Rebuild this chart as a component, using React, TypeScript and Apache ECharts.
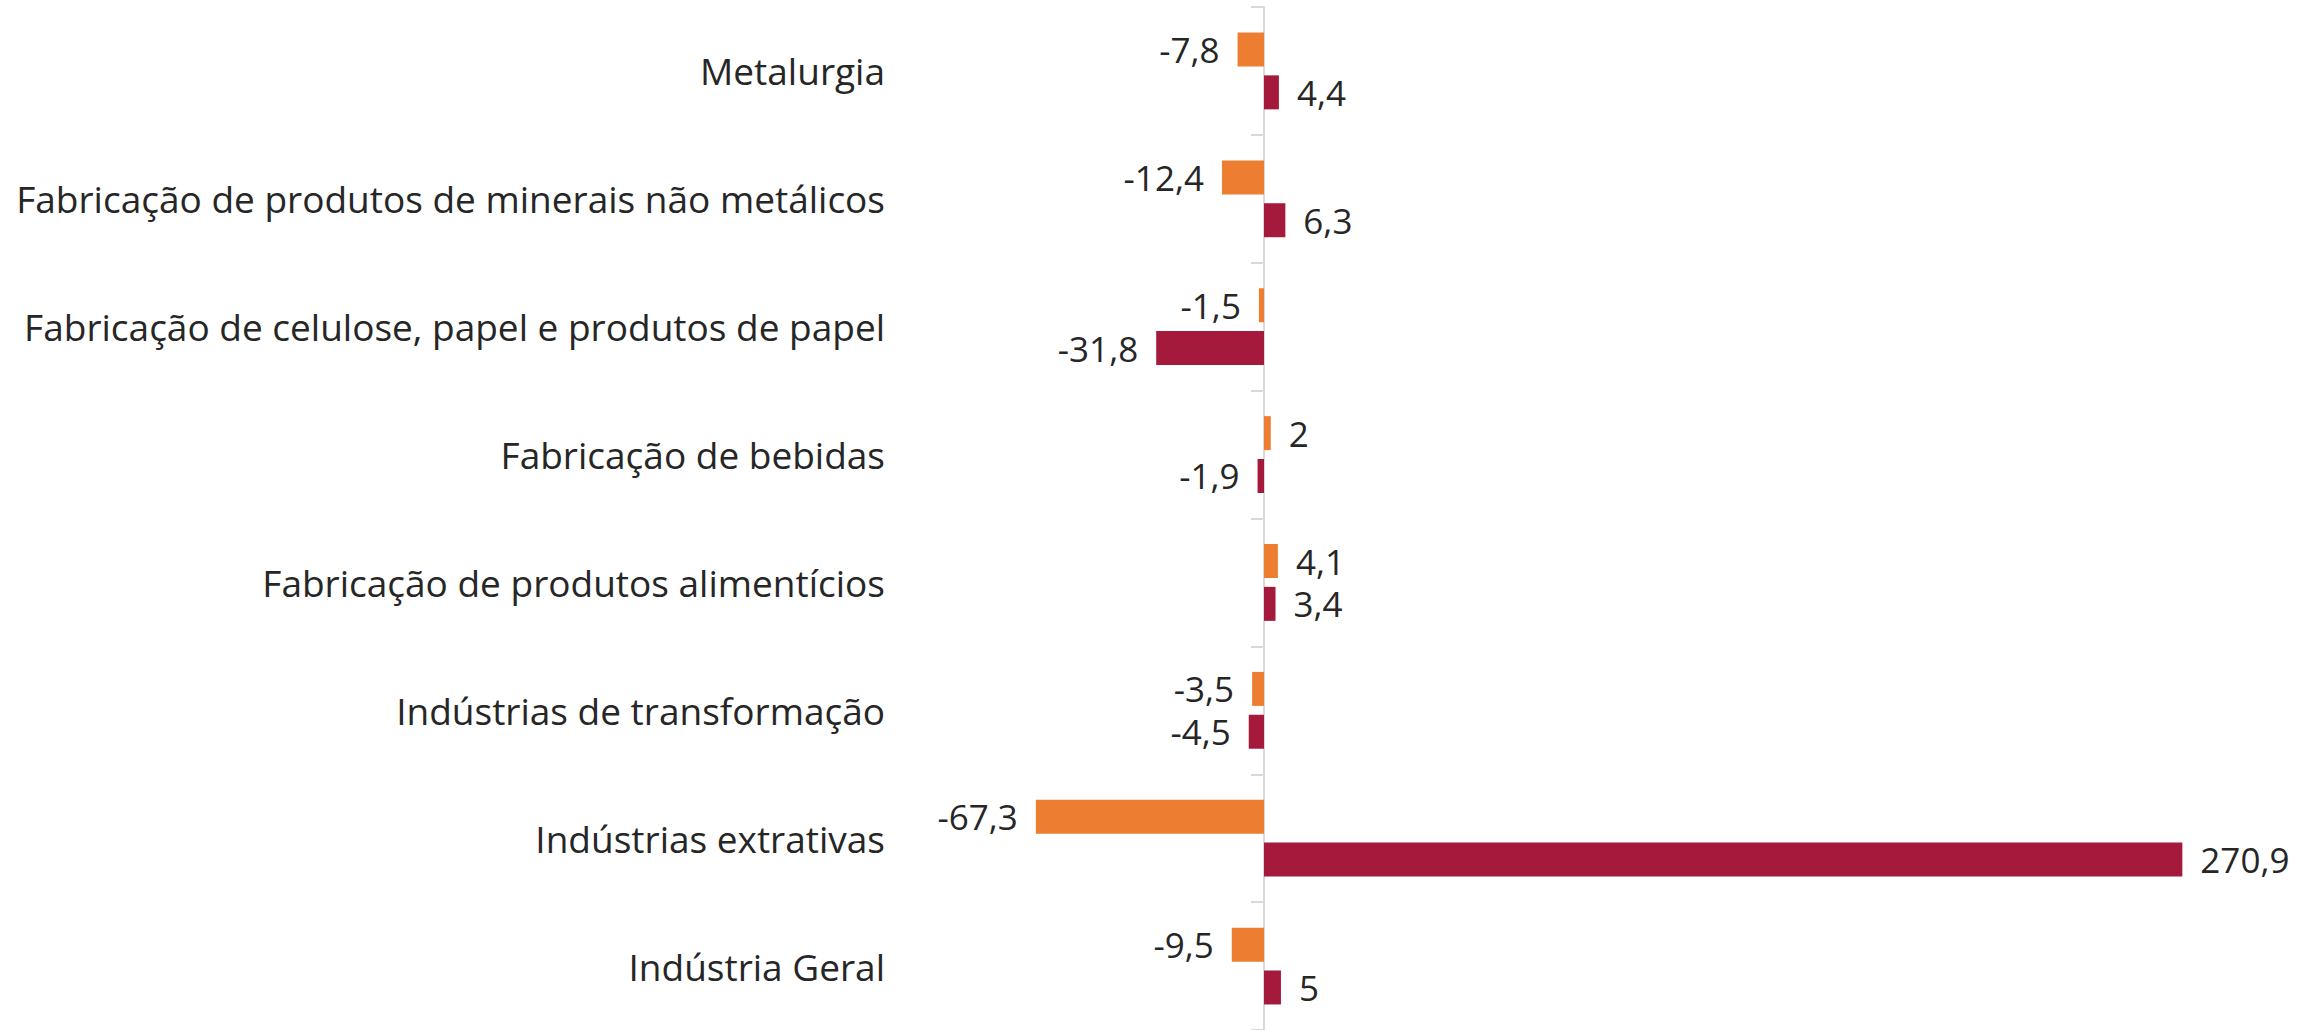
import React, { useEffect, useRef } from "react";
import * as echarts from "echarts";

const categories = [
  "Metalurgia",
  "Fabricação de produtos de minerais não metálicos",
  "Fabricação de celulose, papel e produtos de papel",
  "Fabricação de bebidas",
  "Fabricação de produtos alimentícios",
  "Indústrias de transformação",
  "Indústrias extrativas",
  "Indústria Geral",
];
const orangeValues = [-7.8, -12.4, -1.5, 2, 4.1, -3.5, -67.3, -9.5];
const redValues = [4.4, 6.3, -31.8, -1.9, 3.4, -4.5, 270.9, 5];

const FONT = "Open Sans";
const TEXT = "#262626";

const fmt = (v: number) => String(v).replace(".", ",");

const toItems = (vals: number[]) =>
  vals.map((v) => ({
    value: v,
    label: { position: v < 0 ? "left" : "right" },
  }));

export default function App() {
  const ref = useRef<HTMLDivElement>(null);
  useEffect(() => {
    if (!ref.current) return;
    const chart = echarts.init(ref.current, undefined, { renderer: "svg" });
    const labelStyle = {
      show: true,
      distance: 18,
      fontFamily: FONT,
      fontSize: 35,
      color: TEXT,
      formatter: (p: any) => fmt(p.value),
    };
    chart.setOption({
      animation: false,
      backgroundColor: "#ffffff",
      grid: { left: 925, top: 7, width: 1356, height: 1028, containLabel: false },
      xAxis: {
        type: "value",
        min: -100,
        max: 300,
        show: false,
        splitLine: { show: false },
      },
      yAxis: [
        {
          type: "category",
          data: categories,
          inverse: true,
          position: "left",
          axisLine: { show: false, onZero: false },
          axisTick: { show: false },
          axisLabel: {
            margin: 40,
            fontFamily: FONT,
            fontSize: 37,
            color: TEXT,
          },
        },
        {
          type: "category",
          data: categories,
          inverse: true,
          position: "left",
          axisLine: { show: true, onZero: true, lineStyle: { color: "#D9D9D9", width: 2 } },
          axisTick: { show: true, length: 13, lineStyle: { color: "#D9D9D9", width: 2 } },
          axisLabel: { show: false },
        },
      ],
      series: [
        {
          type: "bar",
          yAxisIndex: 0,
          data: toItems(orangeValues),
          barWidth: 34,
          barGap: "26%",
          itemStyle: { color: "#ED7D31" },
          label: labelStyle,
        },
        {
          type: "bar",
          yAxisIndex: 0,
          data: toItems(redValues),
          barWidth: 34,
          barGap: "26%",
          itemStyle: { color: "#A5193C" },
          label: labelStyle,
        },
      ],
    });
    return () => chart.dispose();
  }, []);
  return (
    <div
      ref={ref}
      style={{ position: "absolute", left: 0, top: 0, width: 2321, height: 1030 }}
    />
  );
}
